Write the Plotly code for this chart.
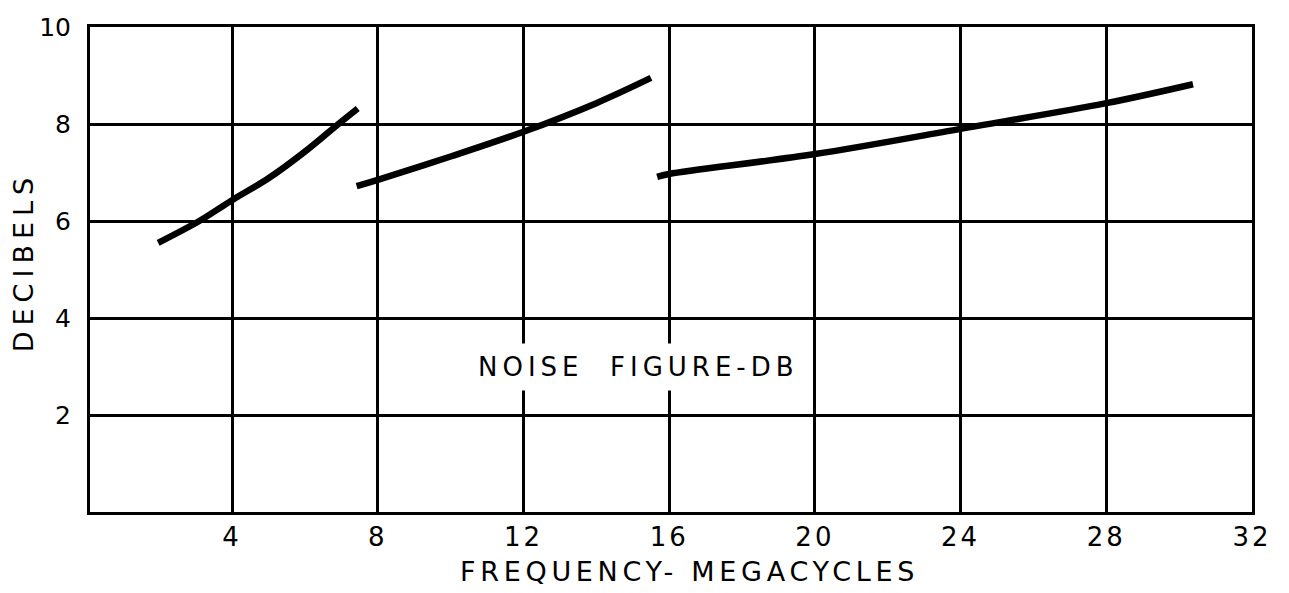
import plotly.graph_objects as go

# Data
band1_freq = [1.97, 3.1, 4.0, 5.0, 6.0, 6.92, 7.45]
band1_db = [5.55, 6.0, 6.43, 6.88, 7.43, 8.0, 8.32]

band2_freq = [7.42, 8.0, 10.0, 12.0, 14.0, 15.5]
band2_db = [6.72, 6.85, 7.33, 7.84, 8.43, 8.95]

band3_freq = [15.67, 16.0, 20.0, 24.0, 28.0, 30.38]
band3_db = [6.91, 6.97, 7.38, 7.90, 8.43, 8.82]

x_ticks = [4, 8, 12, 16, 20, 24, 28, 32]
y_ticks = [2, 4, 6, 8, 10]

FONT = "DejaVu Sans"


def spaced(text, px):
    return '<span style="letter-spacing:%spx">%s</span>' % (px, text)


fig = go.Figure()
for xs, ys in [(band1_freq, band1_db), (band2_freq, band2_db), (band3_freq, band3_db)]:
    fig.add_trace(go.Scatter(
        x=xs, y=ys, mode="lines",
        line=dict(color="black", width=6.5, shape="spline", smoothing=1.0),
        showlegend=False, hoverinfo="skip",
    ))

fig.add_annotation(
    x=15.15, y=2.99, xref="x", yref="y",
    text=spaced("NOISE  FIGURE-DB", 5), showarrow=False,
    font=dict(family=FONT, size=26, color="black"),
    bgcolor="white", borderpad=8,
)

fig.add_annotation(
    x=0.516, y=0, xref="paper", yref="paper", yshift=-59,
    text=spaced("FREQUENCY- MEGACYCLES", 4.7), showarrow=False,
    font=dict(family=FONT, size=27, color="black"),
    xanchor="center", yanchor="middle",
)
fig.add_annotation(
    x=0, y=5.15, xref="paper", yref="y", xshift=-67,
    text=spaced("DECIBELS", 6), showarrow=False, textangle=-90,
    font=dict(family=FONT, size=27, color="black"),
    xanchor="center", yanchor="middle",
)

fig.update_xaxes(
    range=[0.1, 32], tickvals=x_ticks, ticktext=[spaced(str(v), 3) for v in x_ticks],
    showgrid=True, gridcolor="black", gridwidth=2.8,
    showline=True, linecolor="black", linewidth=3, mirror=True,
    ticks="outside", ticklen=0, tickcolor="rgba(0,0,0,0)",
    tickfont=dict(family=FONT, size=26, color="black"),
    zeroline=False,
)
fig.update_yaxes(
    range=[0, 10], tickvals=y_ticks, ticktext=[str(v) for v in y_ticks],
    showgrid=True, gridcolor="black", gridwidth=2.8,
    showline=True, linecolor="black", linewidth=3, mirror=True,
    ticks="outside", ticklen=11, tickcolor="rgba(0,0,0,0)",
    tickfont=dict(family=FONT, size=25, color="black"),
    zeroline=False,
)

fig.update_layout(
    width=1289, height=593,
    margin=dict(l=90, r=37, t=27, b=81),
    plot_bgcolor="white", paper_bgcolor="white",
)

# remove the default page body margin so the figure fills the window exactly
fig.write_html(
    "out.html",
    config={"displayModeBar": False},
    post_script="document.body.style.margin='0';",
)
